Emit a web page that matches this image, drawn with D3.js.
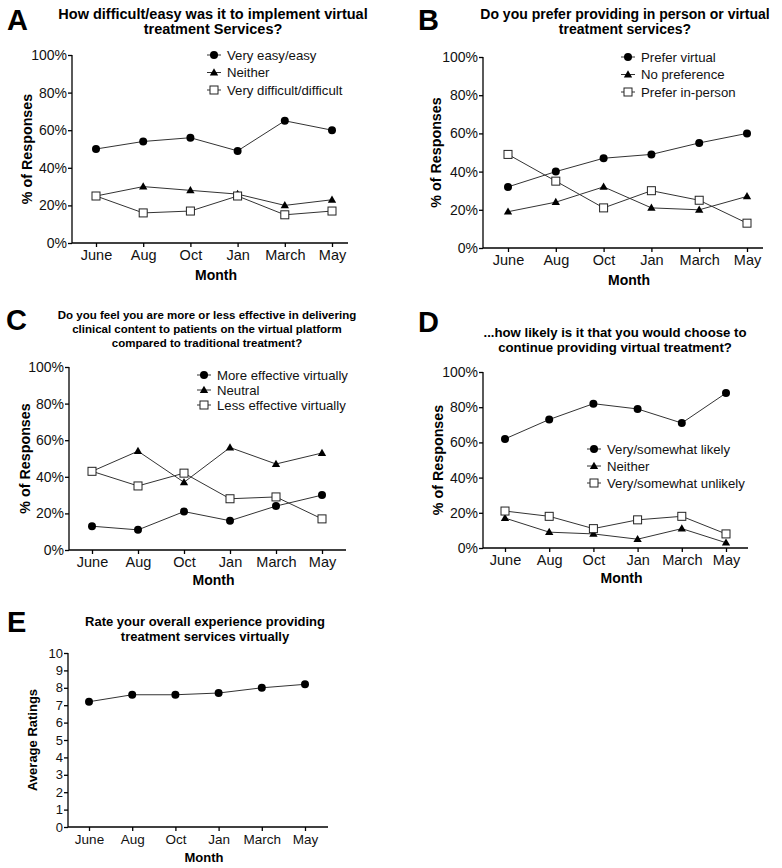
<!DOCTYPE html>
<html>
<head>
<meta charset="utf-8">
<script src="https://cdn.jsdelivr.net/npm/d3@7"></script>
<style>
  body { margin: 0; background: #fff; }
  svg { display: block; font-family: "Liberation Sans", Arial, sans-serif; }
  svg text { font-family: "Liberation Sans", Arial, sans-serif; }
  .axis path, .axis line { stroke: #000; stroke-width: 1.3; }
  .axis text { fill: #111; }
</style>
</head>
<body>
<svg id="fig" width="782" height="868"></svg>
<script>
// month categories and tick values
const months = ["June", "Aug", "Oct", "Jan", "March", "May"]
const pctTicks = [0, 20, 40, 60, 80, 100]
const ratingTicks = [0, 1, 2, 3, 4, 5, 6, 7, 8, 9, 10]

// A: ease of implementation
const aLabels = ["Very easy/easy", "Neither", "Very difficult/difficult"]
const aEasy = [50, 54, 56, 49, 65, 60]
const aNeither = [25, 30, 28, 26, 20, 23]
const aDifficult = [25, 16, 17, 25, 15, 17]

// B: preference
const bLabels = ["Prefer virtual", "No preference", "Prefer in-person"]
const bVirtual = [32, 40, 47, 49, 55, 60]
const bNoPref = [19, 24, 32, 21, 20, 27]
const bInPerson = [49, 35, 21, 30, 25, 13]

// C: effectiveness
const cLabels = ["More effective virtually", "Neutral", "Less effective virtually"]
const cMore = [13, 11, 21, 16, 24, 30]
const cNeutral = [43, 54, 37, 56, 47, 53]
const cLess = [43, 35, 42, 28, 29, 17]

// D: likelihood to continue
const dLabels = ["Very/somewhat likely", "Neither", "Very/somewhat unlikely"]
const dLikely = [62, 73, 82, 79, 71, 88]
const dNeither = [17, 9, 8, 5, 11, 3]
const dUnlikely = [21, 18, 11, 16, 18, 8]

// E: overall rating
const eRatings = [7.2, 7.6, 7.6, 7.7, 8.0, 8.2]

const markers = ["circle", "triangle", "square"]

const svg = d3.select("#fig")

const drawMarker = (g, type, cx, cy) => {
  if (type === "circle") {
    g.append("circle").attr("cx", cx).attr("cy", cy).attr("r", 4).attr("fill", "#000")
  } else if (type === "triangle") {
    g.append("path")
      .attr("d", d3.symbol(d3.symbolTriangle, 30)())
      .attr("transform", `translate(${cx},${cy + 0.5})`)
      .attr("fill", "#000")
  } else {
    g.append("rect").attr("x", cx - 4).attr("y", cy - 4).attr("width", 8).attr("height", 8)
      .attr("fill", "#fff").attr("stroke", "#222").attr("stroke-width", 1)
  }
}

const drawPanel = (p) => {
  const g = svg.append("g")

  g.append("text").text(p.letter)
    .attr("x", p.letterX).attr("y", p.letterY)
    .attr("font-size", 29).attr("font-weight", "bold")

  g.append("text")
    .attr("text-anchor", "middle")
    .attr("font-size", p.titleSize).attr("font-weight", "bold")
    .selectAll("tspan").data(p.title).join("tspan")
      .attr("x", p.titleX).attr("y", (d, i) => p.titleY + i * p.titleLead)
      .text(d => d)

  const x = d3.scaleLinear().domain([0, months.length - 1]).range([p.xFirst, p.xLast])
  const y = d3.scaleLinear().domain(p.yDomain).range([p.bottom, p.top])

  const yAxis = g.append("g").attr("class", "axis")
    .attr("transform", `translate(${p.left},0)`)
    .call(d3.axisLeft(y).tickValues(p.yTicks).tickSize(4).tickSizeOuter(0).tickPadding(1)
      .tickFormat(p.yFormat))
  yAxis.attr("font-family", null)
  yAxis.selectAll("text").attr("font-size", p.tickSize)
  yAxis.select(".domain").attr("d", `M0,${p.bottom}V${p.top}`)

  const xAxis = g.append("g").attr("class", "axis")
    .attr("transform", `translate(0,${p.bottom})`)
    .call(d3.axisBottom(x).tickValues(d3.range(months.length)).tickSize(4).tickPadding(3)
      .tickFormat(i => months[i]))
  xAxis.attr("font-family", null)
  xAxis.selectAll("text").attr("font-size", p.tickSize + 0.5)
  xAxis.select(".domain").attr("d", `M${p.left},0H${p.right}`)

  g.append("text").text("Month")
    .attr("x", (p.left + p.right) / 2 + 6).attr("y", p.monthY)
    .attr("text-anchor", "middle").attr("font-size", p.tickSize).attr("font-weight", "bold")

  g.append("text").text(p.yLabel)
    .attr("transform", `translate(${p.yLabelX},${(p.top + p.bottom) / 2}) rotate(-90)`)
    .attr("text-anchor", "middle").attr("font-size", p.yLabelSize).attr("font-weight", "bold")

  const line = d3.line().x((d, i) => x(i)).y(d => y(d))

  p.series.forEach((values, si) => {
    g.append("path").attr("d", line(values))
      .attr("fill", "none").attr("stroke", "#333").attr("stroke-width", 1)
  })
  p.series.forEach((values, si) => {
    values.forEach((v, i) => drawMarker(g, p.markers[si], x(i), y(v)))
  })

  if (p.legend) {
    p.legend.forEach((label, i) => {
      const ly = p.legendY + i * p.legendStep
      g.append("line").attr("x1", p.legendX - 7).attr("x2", p.legendX + 7)
        .attr("y1", ly).attr("y2", ly).attr("stroke", "#333").attr("stroke-width", 1)
      drawMarker(g, p.markers[i], p.legendX, ly)
      g.append("text").text(label)
        .attr("x", p.legendX + 13).attr("y", ly + 4.5)
        .attr("font-size", 13.2).attr("fill", "#111")
    })
  }
}

const pct = d => d + "%"

drawPanel({
  letter: "A", letterX: 7, letterY: 30,
  title: ["How difficult/easy was it to implement virtual", "treatment Services?"],
  titleX: 213, titleY: 19, titleLead: 15, titleSize: 14.5,
  left: 72, right: 348, top: 55, bottom: 243, xFirst: 96, xLast: 332,
  yDomain: [0, 100], yTicks: pctTicks, yFormat: pct, tickSize: 14,
  monthY: 280, yLabel: "% of Responses", yLabelX: 32, yLabelSize: 14.3,
  series: [aEasy, aNeither, aDifficult], markers,
  legend: aLabels, legendX: 214, legendY: 55, legendStep: 17.5
})

drawPanel({
  letter: "B", letterX: 418, letterY: 30,
  title: ["Do you prefer providing in person or virtual", "treatment services?"],
  titleX: 625, titleY: 19, titleLead: 15, titleSize: 14,
  left: 483, right: 763, top: 57, bottom: 248, xFirst: 508, xLast: 747,
  yDomain: [0, 100], yTicks: pctTicks, yFormat: pct, tickSize: 14,
  monthY: 285, yLabel: "% of Responses", yLabelX: 441, yLabelSize: 14.3,
  series: [bVirtual, bNoPref, bInPerson], markers,
  legend: bLabels, legendX: 628, legendY: 57, legendStep: 17.5
})

drawPanel({
  letter: "C", letterX: 6, letterY: 330,
  title: ["Do you feel you are more or less effective in delivering",
    "clinical content to patients on the virtual platform",
    "compared to traditional treatment?"],
  titleX: 207, titleY: 319, titleLead: 14, titleSize: 11.5,
  left: 69, right: 346, top: 367, bottom: 550, xFirst: 92, xLast: 322,
  yDomain: [0, 100], yTicks: pctTicks, yFormat: pct, tickSize: 14,
  monthY: 585, yLabel: "% of Responses", yLabelX: 30, yLabelSize: 14.3,
  series: [cMore, cNeutral, cLess], markers,
  legend: cLabels, legendX: 204, legendY: 375, legendStep: 15
})

drawPanel({
  letter: "D", letterX: 418, letterY: 332,
  title: ["...how likely is it that you would choose to", "continue providing virtual treatment?"],
  titleX: 615, titleY: 337, titleLead: 15, titleSize: 13.2,
  left: 483, right: 748, top: 372, bottom: 548, xFirst: 505, xLast: 726,
  yDomain: [0, 100], yTicks: pctTicks, yFormat: pct, tickSize: 14,
  monthY: 583, yLabel: "% of Responses", yLabelX: 443, yLabelSize: 14.3,
  series: [dLikely, dNeither, dUnlikely], markers,
  legend: dLabels, legendX: 594, legendY: 449, legendStep: 17
})

drawPanel({
  letter: "E", letterX: 7, letterY: 632,
  title: ["Rate your overall experience providing", "treatment services virtually"],
  titleX: 205, titleY: 626, titleLead: 15, titleSize: 13,
  left: 68, right: 328, top: 653, bottom: 827, xFirst: 89, xLast: 305,
  yDomain: [0, 10], yTicks: ratingTicks, yFormat: d => d, tickSize: 13,
  monthY: 862, yLabel: "Average Ratings", yLabelX: 37, yLabelSize: 13,
  series: [eRatings], markers: ["circle"],
  legend: null
})
</script>
</body>
</html>
